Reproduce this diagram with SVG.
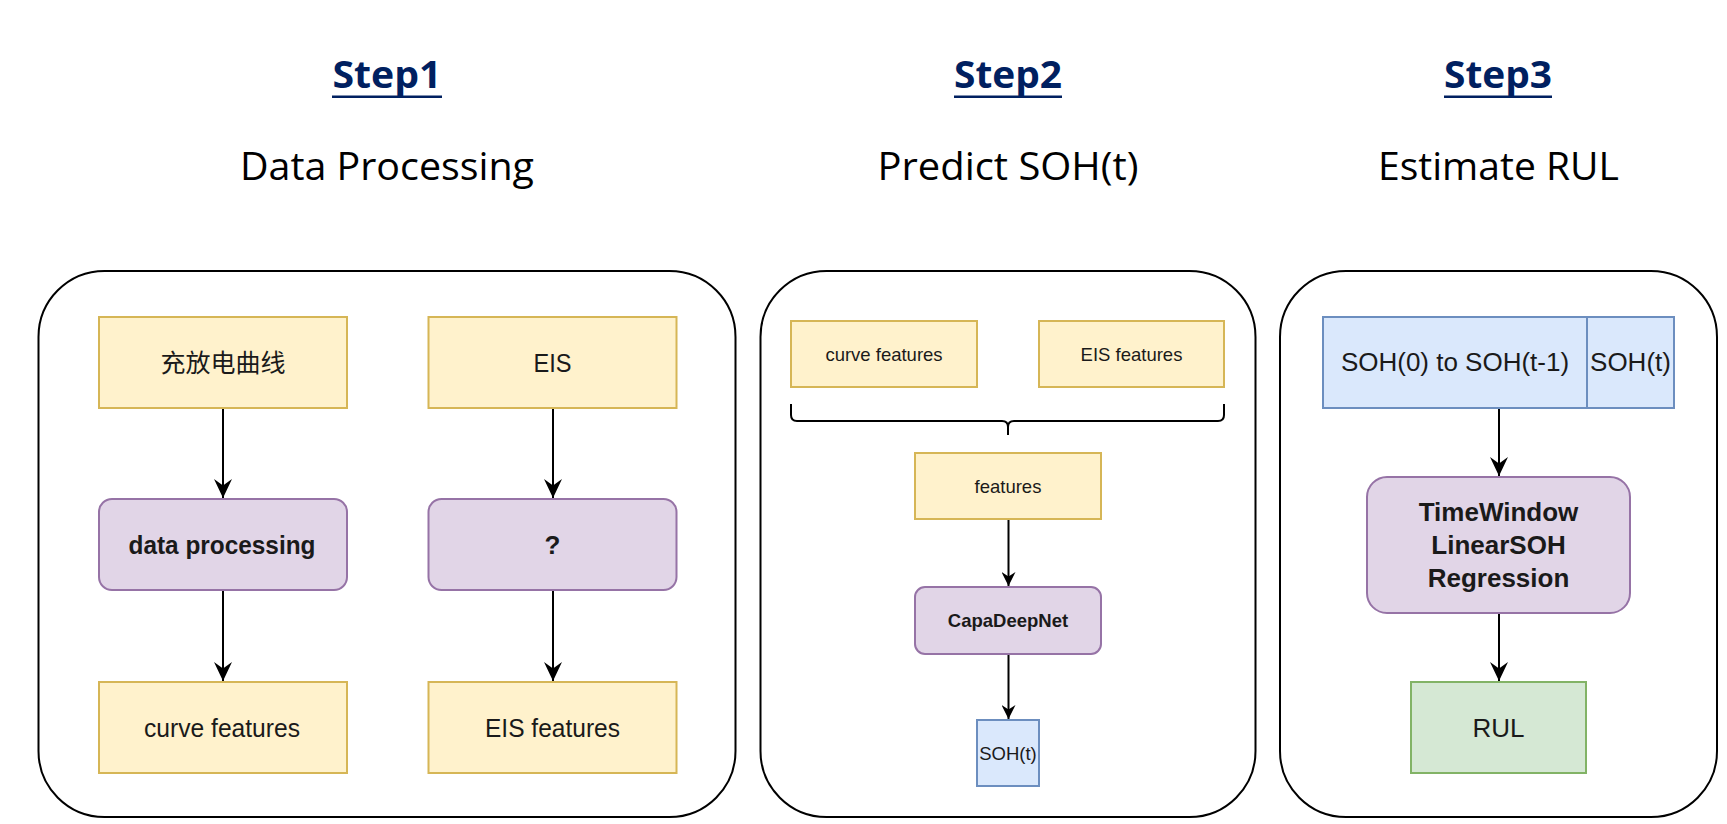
<svg xmlns="http://www.w3.org/2000/svg" width="1727" height="824" viewBox="0 0 1727 824">
<style>
.step{font-family:"Open Sans","Noto Sans","Liberation Sans",sans-serif;font-weight:bold;font-size:38px;fill:#002060;text-anchor:middle}
.ul{fill:#002060}
.sub{font-family:"Open Sans","Noto Sans","Liberation Sans",sans-serif;font-size:39px;fill:#000;text-anchor:middle}
.panel{fill:#fff;stroke:#000;stroke-width:2}
.yel{fill:#fff2cc;stroke:#d6b656;stroke-width:2}
.pur{fill:#e1d5e7;stroke:#9673a6;stroke-width:2}
.blu{fill:#dae8fc;stroke:#6c8ebf;stroke-width:2}
.grn{fill:#d5e8d4;stroke:#82b366;stroke-width:2}
.t26{font-family:"Liberation Sans",Arial,sans-serif;font-size:26px;fill:#1a1a1a;text-anchor:middle}
.t18{font-family:"Liberation Sans",Arial,sans-serif;font-size:18.5px;fill:#1a1a1a;text-anchor:middle}
.b{font-weight:bold}
.cjk{font-family:"Liberation Sans","Noto Sans CJK SC",sans-serif;font-size:25px;fill:#1a1a1a;text-anchor:middle}
.edge{fill:none;stroke:#000;stroke-width:2}
</style>
<defs>
<marker id="ah" markerUnits="userSpaceOnUse" markerWidth="20" markerHeight="18" viewBox="0 0 20 18" refX="19" refY="9" orient="auto">
<path d="M0,0 L19,9 L0,18 L6.5,9 Z" fill="#000"/>
</marker>
<marker id="ahs" markerUnits="userSpaceOnUse" markerWidth="15" markerHeight="14" viewBox="0 0 15 14" refX="14" refY="7" orient="auto">
<path d="M0,0 L14,7 L0,14 L4.5,7 Z" fill="#000"/>
</marker>
</defs>

<g id="headers">
<text class="step" x="387" y="88" textLength="109" lengthAdjust="spacingAndGlyphs">Step1</text>
<rect class="ul" x="332" y="95.5" width="110" height="2.5"/>
<text class="sub" x="387" y="179.5" textLength="294" lengthAdjust="spacingAndGlyphs">Data Processing</text>
<text class="step" x="1008" y="88" textLength="108" lengthAdjust="spacingAndGlyphs">Step2</text>
<rect class="ul" x="954" y="95.5" width="108" height="2.5"/>
<text class="sub" x="1008" y="179.5" textLength="261" lengthAdjust="spacingAndGlyphs">Predict SOH(t)</text>
<text class="step" x="1498" y="88" textLength="108" lengthAdjust="spacingAndGlyphs">Step3</text>
<rect class="ul" x="1444" y="95.5" width="108" height="2.5"/>
<text class="sub" x="1498.5" y="179.5" textLength="241" lengthAdjust="spacingAndGlyphs">Estimate RUL</text>
</g>

<g id="panel1"><rect class="panel" x="38.5" y="271" width="697" height="546" rx="66" ry="66"/></g>
<g id="panel2"><rect class="panel" x="760.5" y="271" width="495" height="546" rx="66" ry="66"/></g>
<g id="panel3"><rect class="panel" x="1280" y="271" width="437" height="546" rx="66" ry="66"/></g>

<g id="connectors">
<line class="edge" x1="223" y1="408" x2="223" y2="498" marker-end="url(#ah)"/>
<line class="edge" x1="223" y1="590" x2="223" y2="681" marker-end="url(#ah)"/>
<line class="edge" x1="553" y1="408" x2="553" y2="498" marker-end="url(#ah)"/>
<line class="edge" x1="553" y1="590" x2="553" y2="681" marker-end="url(#ah)"/>
<line class="edge" x1="1008.5" y1="519" x2="1008.5" y2="586" marker-end="url(#ahs)"/>
<line class="edge" x1="1008.5" y1="654" x2="1008.5" y2="719" marker-end="url(#ahs)"/>
<line class="edge" x1="1499" y1="408" x2="1499" y2="476" marker-end="url(#ah)"/>
<line class="edge" x1="1499" y1="613" x2="1499" y2="681" marker-end="url(#ah)"/>
<path class="edge" d="M791,404 L791,415 Q791,421 797,421 L1002,421 Q1008,421 1008,427 L1008,435 M1008,427 Q1008,421 1014,421 L1218,421 Q1224,421 1224,415 L1224,404"/>
</g>

<g id="n-curve-raw"><rect class="yel" x="99" y="317" width="248" height="91"/><text class="cjk" x="223" y="372" textLength="125" lengthAdjust="spacingAndGlyphs">充放电曲线</text></g>
<g id="n-eis"><rect class="yel" x="428.5" y="317" width="248" height="91"/><text class="t26" x="552.5" y="372" textLength="38" lengthAdjust="spacingAndGlyphs">EIS</text></g>
<g id="n-dataproc"><rect class="pur" x="99" y="499" width="248" height="91" rx="13" ry="13"/><text class="t26 b" x="222" y="553.5" textLength="187" lengthAdjust="spacingAndGlyphs">data processing</text></g>
<g id="n-q"><rect class="pur" x="428.5" y="499" width="248" height="91" rx="13" ry="13"/><text class="t26 b" x="552.5" y="553.5">?</text></g>
<g id="n-curvefeat1"><rect class="yel" x="99" y="682" width="248" height="91"/><text class="t26" x="222" y="737" textLength="156" lengthAdjust="spacingAndGlyphs">curve features</text></g>
<g id="n-eisfeat1"><rect class="yel" x="428.5" y="682" width="248" height="91"/><text class="t26" x="552.5" y="737" textLength="135" lengthAdjust="spacingAndGlyphs">EIS features</text></g>

<g id="n-curvefeat2"><rect class="yel" x="791" y="321" width="186" height="66"/><text class="t18" x="884" y="360.5">curve features</text></g>
<g id="n-eisfeat2"><rect class="yel" x="1039" y="321" width="185" height="66"/><text class="t18" x="1131.5" y="360.5">EIS features</text></g>
<g id="n-features"><rect class="yel" x="915" y="453" width="186" height="66"/><text class="t18" x="1008" y="492.5">features</text></g>
<g id="n-capa"><rect class="pur" x="915" y="587" width="186" height="67" rx="10" ry="10"/><text class="t18 b" x="1008" y="627">CapaDeepNet</text></g>
<g id="n-soh2"><rect class="blu" x="977" y="720" width="62" height="66"/><text class="t18" x="1008" y="759.5">SOH(t)</text></g>

<g id="n-sohseq"><rect class="blu" x="1323" y="317" width="264" height="91"/><text class="t26" x="1455" y="371">SOH(0) to SOH(t-1)</text></g>
<g id="n-soht3"><rect class="blu" x="1587" y="317" width="87" height="91"/><text class="t26" x="1630.5" y="371">SOH(t)</text></g>
<g id="n-reg"><rect class="pur" x="1367" y="477" width="263" height="136" rx="20" ry="20"/>
<text class="t26 b" x="1498.5" y="521">TimeWindow</text>
<text class="t26 b" x="1498.5" y="553.5">LinearSOH</text>
<text class="t26 b" x="1498.5" y="587">Regression</text></g>
<g id="n-rul"><rect class="grn" x="1411" y="682" width="175" height="91"/><text class="t26" x="1498.5" y="737">RUL</text></g>
</svg>
